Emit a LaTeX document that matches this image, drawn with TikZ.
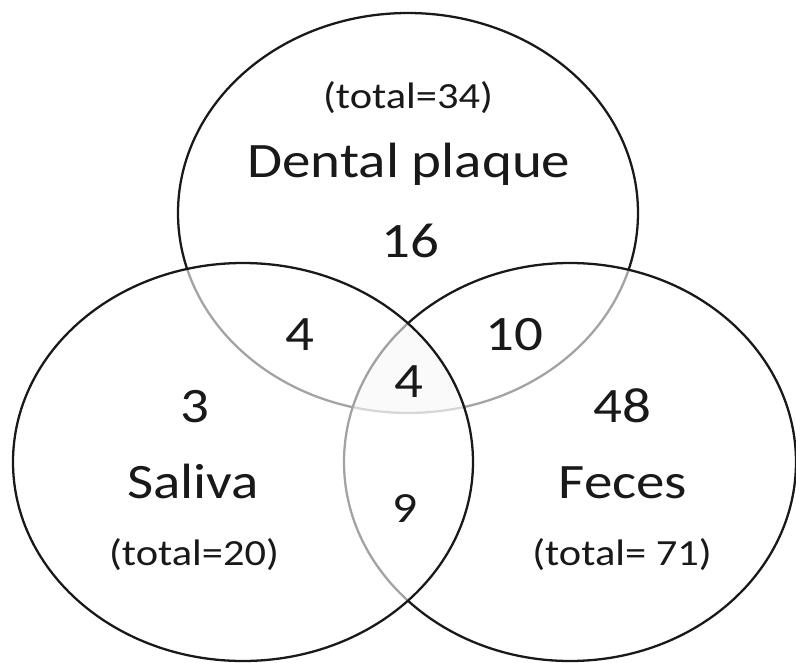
\documentclass[tikz,border=0pt]{standalone}
\usepackage{fontspec}
\setmainfont{Carlito}[FakeStretch=1.15]
\begin{document}
\begin{tikzpicture}[x=0.02cm, y=-0.02cm,
    set/.style={draw=black!90, line width=1.3pt, fill=white, fill opacity=0.6},
    big/.style={font=\fontsize{28.2}{30}\selectfont, anchor=base, text=black!90},
    mid/.style={font=\fontsize{24.5}{27}\selectfont, anchor=base, text=black!90},
    small/.style={font=\fontsize{21}{24}\selectfont, anchor=base, text=black!90}]
    \useasboundingbox[fill=white] (0,0) rectangle (796,663);

    \coordinate (plaque) at (408,213);
    \coordinate (saliva) at (243,462);
    \coordinate (feces)  at (570,462);

    % top set lies under the other two
    \draw[set] (plaque) ellipse [x radius=230, y radius=200];
    \draw[set] (feces)  ellipse [x radius=226, y radius=199];
    \draw[set] (saliva) ellipse [x radius=230, y radius=199];

    \begin{scope}
        \clip (plaque) ellipse [x radius=230, y radius=200];
        \clip (saliva) ellipse [x radius=230, y radius=199];
        \fill[black, fill opacity=0.018] (feces) ellipse [x radius=226, y radius=199];
    \end{scope}

    \node[small] (plaqueTotal) at (408,108) {(total=34)};
    \node[big] (plaqueName) at (409,177) {Dental plaque};
    \node[big] (plaqueOnly) at (410,257) {16};
    \node[big] (plaqueSaliva) at (300,350) {4};
    \node[big] (plaqueFeces) at (514,350) {10};
    \node[big] (allThree) at (409,397) {4};
    \node[big] (salivaOnly) at (195,422) {3};
    \node[big] (fecesOnly) at (622,422) {48};
    \node[big] (salivaName) at (193,498) {Saliva};
    \node[big] (fecesName) at (623,498) {Feces};
    \node[mid] (salivaFeces) at (405,522) {9};
    \node[small] (salivaTotal) at (194,565) {(total=20)};
    \node[small] (fecesTotal) at (622,565) {(total= 71)};
\end{tikzpicture}
\end{document}
